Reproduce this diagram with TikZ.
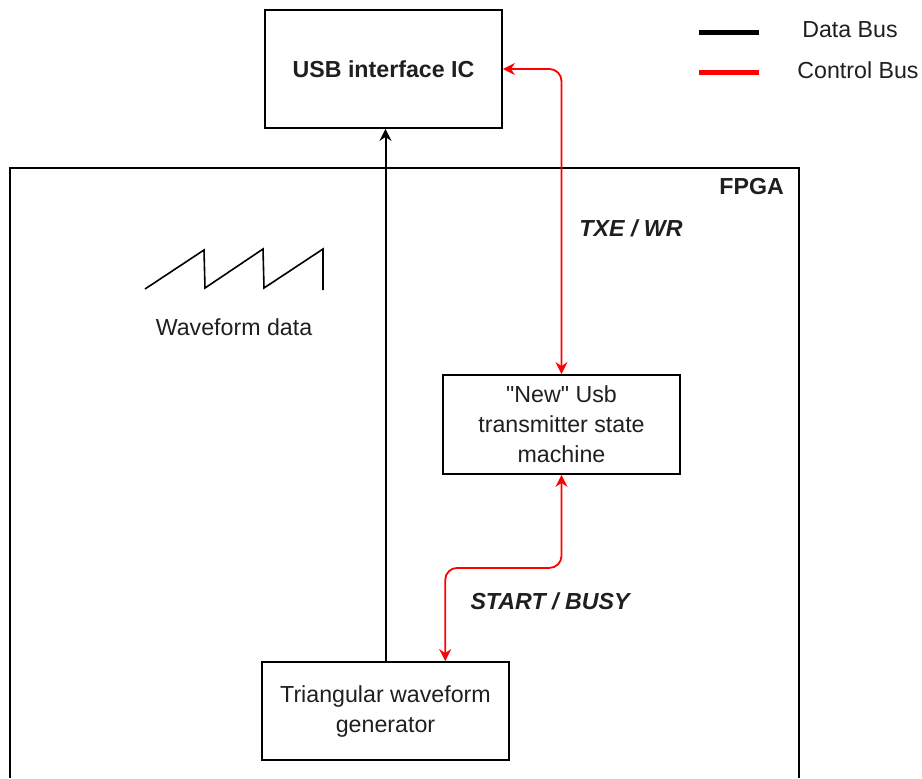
\documentclass[tikz,border=0pt]{standalone}
\usepackage{fontspec}
\setmainfont{Liberation Sans}
\usetikzlibrary{arrows.meta,positioning,calc}

\begin{document}
\begin{tikzpicture}[
  x=0.5pt, y=-0.5pt,
  >={Stealth[length=6pt,width=6pt,inset=2pt]},
  every node/.style={font=\fontsize{11.6}{15}\selectfont, text=black!88},
  blockbox/.style={rectangle, draw, line width=0.9pt, align=center, inner sep=0pt},
  databus/.style={->, line width=1pt, black},
  ctrlbus/.style={<->, line width=0.9pt, red, rounded corners=6pt},
  sig/.style={font=\fontsize{11.6}{15}\selectfont\bfseries\itshape},
  legline/.style={line width=2.5pt}
]
  \useasboundingbox (0,0) rectangle (922,778);

  % FPGA frame (bottom edge lies below the picture)
  \draw[line width=0.9pt] (10,778) -- (10,168) -- (799,168) -- (799,778);
  \node[anchor=east, font=\fontsize{11.6}{15}\selectfont\bfseries] (fpga) at (791,187) {FPGA};

  % blocks
  \node[blockbox, minimum width=118.5pt, minimum height=59pt,
        font=\fontsize{11.6}{15}\selectfont\bfseries] (usb) at (383.5,69) {USB interface IC};
  \node[blockbox, minimum width=118.5pt, minimum height=49.5pt] (stm) at (561.5,424.5)
        {\textquotedbl New\textquotedbl{} Usb\\transmitter state\\machine};
  \node[blockbox, minimum width=123.5pt, minimum height=49pt] (tri) at (385.5,711)
        {Triangular waveform\\generator};

  % buses
  \draw[databus] (tri.north) -- (tri.north |- usb.south);
  \draw[ctrlbus] (usb.east) -| (stm.north);
  \coordinate (trin) at ($(tri.north west)!0.74!(tri.north east)$);
  \draw[ctrlbus] (stm.south) -- ++(0,93) -| (trin);

  \node[sig] (txwr) at (631,228) {TXE / WR};
  \node[sig] (stbusy) at (550,601) {START / BUSY};

  % waveform sketch
  \draw[line width=0.8pt] (145,289) -- (204,250) -- (205,288) -- (263,249)
    -- (264,288) -- (323,249) -- (323,290);
  \node (wavelabel) at (234,327) {Waveform data};

  % legend
  \coordinate (dbA) at (699,32);
  \coordinate (dbB) at (759,32);
  \coordinate (cbA) at (699,72);
  \coordinate (cbB) at (759,72);
  \draw[legline, black] (dbA) -- (dbB);
  \draw[legline, red] (cbA) -- (cbB);
  \node (dblabel) at (850,30) {Data Bus};
  \node (cblabel) at (858,70) {Control Bus};
\end{tikzpicture}
\end{document}
